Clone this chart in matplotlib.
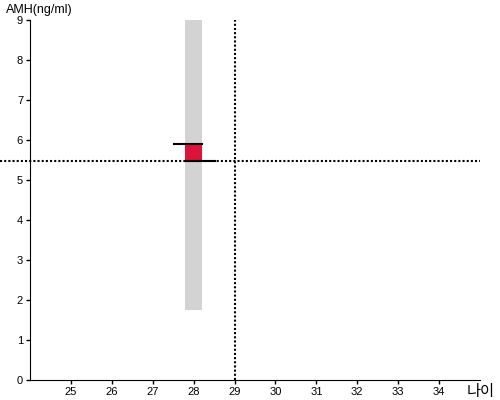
import matplotlib
matplotlib.use("Agg")
import matplotlib.pyplot as plt

plt.rcParams['font.family'] = ['Liberation Sans', 'Noto Sans CJK KR', 'DejaVu Sans']

# data
age = 28            # position of the bar
range_low = 1.75    # grey range
range_high = 9.0
box_low = 5.475     # red box
box_high = 5.9
ref_age = 29        # vertical dotted reference
ref_amh = 5.475     # horizontal dotted reference
xticks = list(range(25, 35))
yticks = list(range(0, 10))

fig = plt.figure(figsize=(5, 4), dpi=100)
ax = fig.add_axes([0.06, 0.05, 0.90, 0.90])

w = 0.4
ax.bar(age, range_high - range_low, bottom=range_low, width=w, color='#d3d3d3', zorder=1)
ax.bar(age, box_high - box_low, bottom=box_low, width=w, color='#dc143c', zorder=2)
# black lines at the top / bottom of the box
ax.plot([age - 0.48, age + w / 2], [box_high, box_high], color='black', lw=1.5, zorder=3)
ax.plot([age - w / 2, age + 0.52], [box_low, box_low], color='black', lw=1.5, zorder=3)

# dotted reference lines
ax.plot([23.27, 35], [ref_amh, ref_amh], color='black', lw=1.5, linestyle=(0, (1, 1)),
        clip_on=False, zorder=4)
ax.plot([ref_age, ref_age], [0, 9], color='black', lw=1.5, linestyle=(0, (1, 1)), zorder=4)

ax.set_xlim(24, 35)
ax.set_ylim(0, 9)
ax.set_xticks(xticks)
ax.set_yticks(yticks)
ax.tick_params(labelsize=8, length=3, width=1, pad=2)
for s in ['top', 'right']:
    ax.spines[s].set_visible(False)

fig.text(0.012, 0.975, 'AMH(ng/ml)', fontsize=9, va='center', ha='left')
fig.text(0.99, 0.02, '나이', fontsize=11, va='center', ha='right')

fig.savefig('out.png', dpi=100)
